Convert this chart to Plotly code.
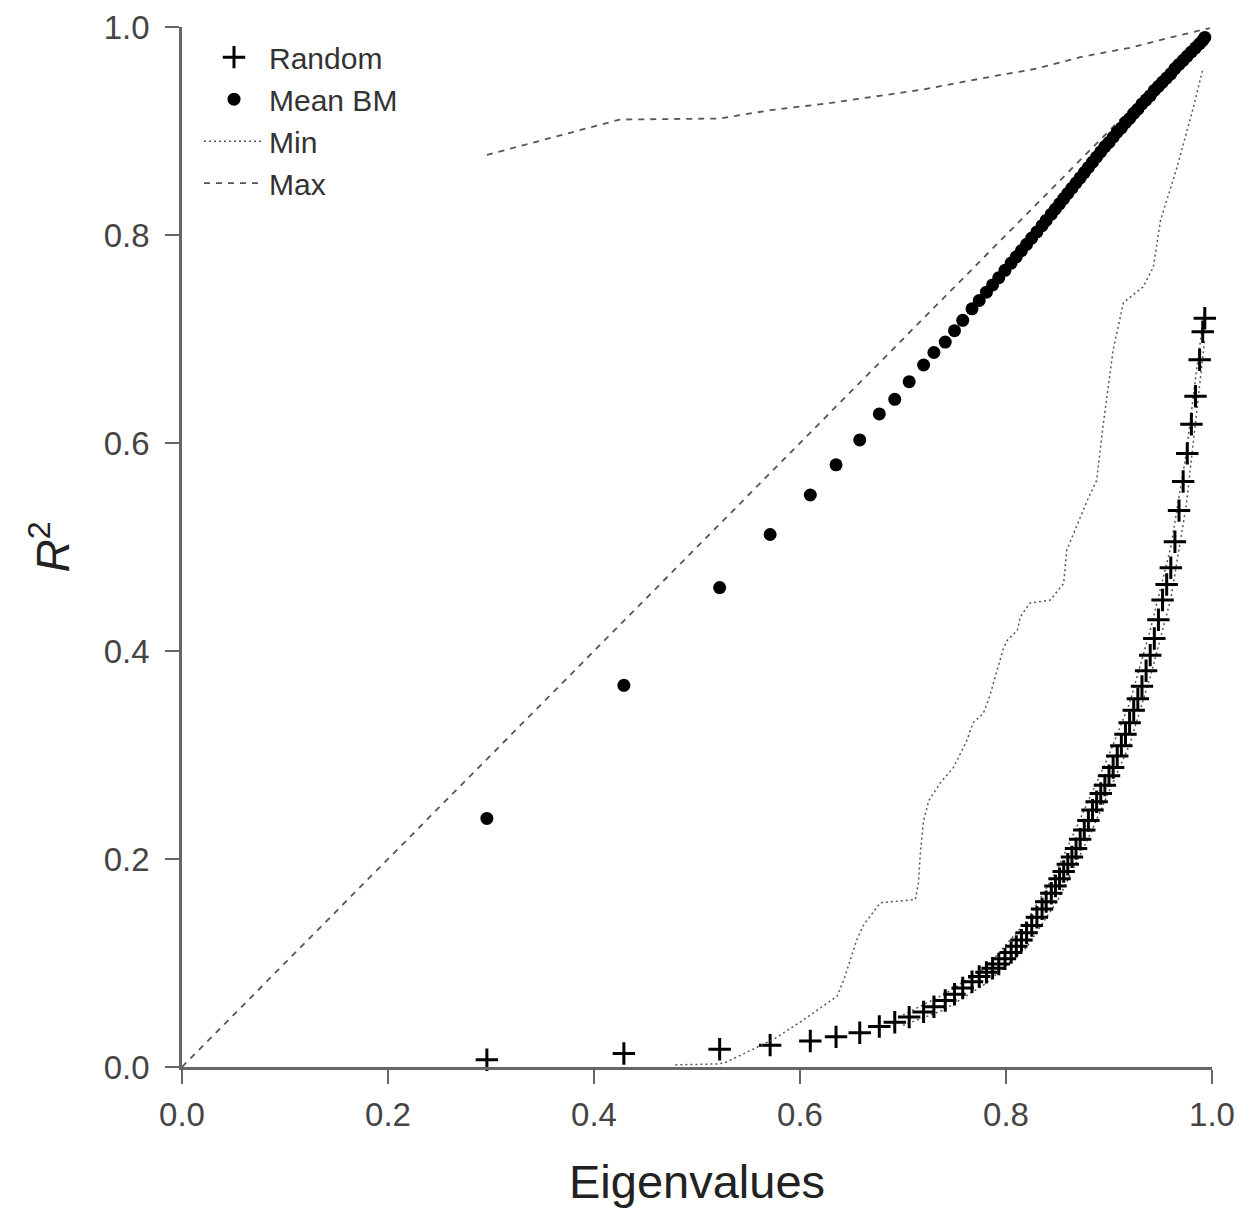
import plotly.graph_objects as go

# Eigenvalues (shared x for Random and Mean BM)
eigenvalues = [0.296, 0.429, 0.522, 0.571, 0.610, 0.635, 0.658, 0.677, 0.692, 0.706,
               0.720, 0.730, 0.741, 0.750, 0.758, 0.767, 0.774, 0.781, 0.787, 0.793,
               0.799, 0.805, 0.810, 0.815, 0.820, 0.825, 0.830, 0.835, 0.839, 0.844,
               0.848, 0.852, 0.856, 0.860, 0.864, 0.868, 0.872, 0.876, 0.880, 0.884,
               0.888, 0.892, 0.896, 0.900, 0.904, 0.908, 0.912, 0.916, 0.920, 0.924,
               0.928, 0.932, 0.936, 0.940, 0.944, 0.948, 0.952, 0.956, 0.960, 0.964,
               0.968, 0.972, 0.976, 0.980, 0.984, 0.988, 0.991, 0.993]

random_r2 = [0.007, 0.013, 0.017, 0.021, 0.025, 0.029, 0.033, 0.039, 0.043, 0.048,
             0.053, 0.058, 0.064, 0.070, 0.076, 0.082, 0.087, 0.091, 0.095, 0.099,
             0.104, 0.110, 0.116, 0.122, 0.129, 0.136, 0.144, 0.152, 0.159, 0.167,
             0.174, 0.181, 0.188, 0.195, 0.202, 0.210, 0.219, 0.228, 0.237, 0.247,
             0.255, 0.263, 0.271, 0.280, 0.288, 0.299, 0.309, 0.320, 0.331, 0.343,
             0.354, 0.366, 0.381, 0.396, 0.412, 0.430, 0.449, 0.464, 0.480, 0.505,
             0.535, 0.563, 0.590, 0.618, 0.645, 0.680, 0.707, 0.720]

mean_bm_r2 = [0.239, 0.367, 0.461, 0.512, 0.550, 0.579, 0.603, 0.628, 0.642, 0.659,
              0.675, 0.687, 0.697, 0.708, 0.718, 0.729, 0.737, 0.745, 0.752, 0.759,
              0.766, 0.773, 0.779, 0.785, 0.791, 0.797, 0.803, 0.809, 0.814, 0.820,
              0.825, 0.830, 0.835, 0.840, 0.845, 0.850, 0.855, 0.860, 0.865, 0.870,
              0.875, 0.880, 0.885, 0.889, 0.894, 0.899, 0.903, 0.908, 0.912, 0.917,
              0.921, 0.926, 0.930, 0.934, 0.939, 0.943, 0.947, 0.951, 0.955, 0.960,
              0.964, 0.968, 0.972, 0.976, 0.980, 0.984, 0.987, 0.990]

# Min (BM) dotted line
min_x = [0.479, 0.520, 0.527, 0.550, 0.575, 0.600, 0.617, 0.636, 0.643, 0.650,
         0.655, 0.662, 0.670, 0.678, 0.712, 0.715, 0.717, 0.720, 0.725, 0.736,
         0.749, 0.762, 0.768, 0.778, 0.784, 0.791, 0.797, 0.801, 0.811, 0.814,
         0.823, 0.843, 0.856, 0.859, 0.879, 0.888, 0.894, 0.904, 0.914, 0.933,
         0.943, 0.950, 0.966, 0.982, 0.991]
min_y = [0.002, 0.003, 0.004, 0.015, 0.027, 0.043, 0.055, 0.068, 0.085, 0.106,
         0.122, 0.137, 0.148, 0.158, 0.161, 0.177, 0.208, 0.237, 0.256, 0.273,
         0.288, 0.314, 0.331, 0.340, 0.356, 0.379, 0.401, 0.410, 0.420, 0.433,
         0.446, 0.449, 0.465, 0.497, 0.545, 0.564, 0.615, 0.689, 0.735, 0.750,
         0.769, 0.814, 0.865, 0.923, 0.959]

# Max (BM) dashed line
max_x = [0.296, 0.360, 0.425, 0.522, 0.571, 0.630, 0.678, 0.720, 0.784, 0.830,
         0.872, 0.920, 0.960, 0.988, 0.998]
max_y = [0.877, 0.894, 0.911, 0.912, 0.920, 0.927, 0.934, 0.940, 0.952, 0.960,
         0.971, 0.980, 0.990, 0.997, 0.999]

# Random min / max (dotted envelopes)
rand_env_x = [0.700, 0.740, 0.780, 0.820, 0.850, 0.880, 0.900, 0.920, 0.940, 0.960,
              0.975, 0.985, 0.993]
rand_min_y = [0.040, 0.055, 0.080, 0.115, 0.160, 0.220, 0.265, 0.310, 0.375, 0.450,
              0.540, 0.630, 0.700]
rand_max_y = [0.050, 0.070, 0.095, 0.140, 0.190, 0.255, 0.300, 0.350, 0.420, 0.500,
              0.590, 0.670, 0.730]

# 1:1 reference line
ref_x = [0.0, 0.995]
ref_y = [0.0, 0.995]

tick_vals = [0.0, 0.2, 0.4, 0.6, 0.8, 1.0]
tick_text = ["0.0", "0.2", "0.4", "0.6", "0.8", "1.0"]

LINE_GRAY = "#555555"
FONT = "Liberation Sans, Arial, sans-serif"

fig = go.Figure()

fig.add_trace(go.Scatter(x=ref_x, y=ref_y, mode="lines", showlegend=False,
                         line=dict(color=LINE_GRAY, width=1.8, dash="6px,6px")))
fig.add_trace(go.Scatter(x=rand_env_x, y=rand_min_y, mode="lines", showlegend=False,
                         line=dict(color=LINE_GRAY, width=1.5, dash="2px,3px")))
fig.add_trace(go.Scatter(x=rand_env_x, y=rand_max_y, mode="lines", showlegend=False,
                         line=dict(color=LINE_GRAY, width=1.5, dash="2px,3px")))

fig.add_trace(go.Scatter(x=eigenvalues, y=random_r2, mode="markers", name="Random",
                         cliponaxis=False,
                         marker=dict(symbol="cross-thin", size=16, color="black",
                                     line=dict(width=3, color="black"))))
fig.add_trace(go.Scatter(x=eigenvalues, y=mean_bm_r2, mode="markers", name="Mean BM",
                         cliponaxis=False,
                         marker=dict(symbol="circle", size=13, color="black",
                                     line=dict(width=0))))
fig.add_trace(go.Scatter(x=min_x, y=min_y, mode="lines", name="Min",
                         line=dict(color=LINE_GRAY, width=1.5, dash="2px,3px")))
fig.add_trace(go.Scatter(x=max_x, y=max_y, mode="lines", name="Max",
                         line=dict(color=LINE_GRAY, width=1.8, dash="6px,6px")))

axis_common = dict(
    range=[0, 1],
    tickvals=tick_vals,
    ticktext=tick_text,
    ticks="outside",
    ticklen=14,
    tickwidth=2,
    tickcolor="#666666",
    showline=True,
    linecolor="#666666",
    linewidth=2.5,
    showgrid=False,
    zeroline=False,
    automargin=False,
    tickfont=dict(family=FONT, size=33, color="#444444"),
)

fig.update_layout(
    width=1234,
    height=1202,
    margin=dict(l=174, r=30, t=19, b=143),
    paper_bgcolor="white",
    plot_bgcolor="white",
    font=dict(family=FONT, color="#222222"),
    xaxis=dict(axis_common,
               title=dict(text="Eigenvalues", font=dict(family=FONT, size=47, color="#222222"),
                          standoff=33),
               ticklabelstandoff=3),
    yaxis=dict(axis_common,
               title=dict(text="<i>R</i><sup>2</sup>", font=dict(family=FONT, size=46, color="#222222"),
                          standoff=20),
               ticklabelstandoff=9),
    legend=dict(x=0.0165, y=0.996, xanchor="left", yanchor="top",
                bgcolor="rgba(0,0,0,0)",
                font=dict(family=FONT, size=30, color="#333333"),
                itemwidth=60),
    showlegend=True,
)

fig.write_html("out.html")
